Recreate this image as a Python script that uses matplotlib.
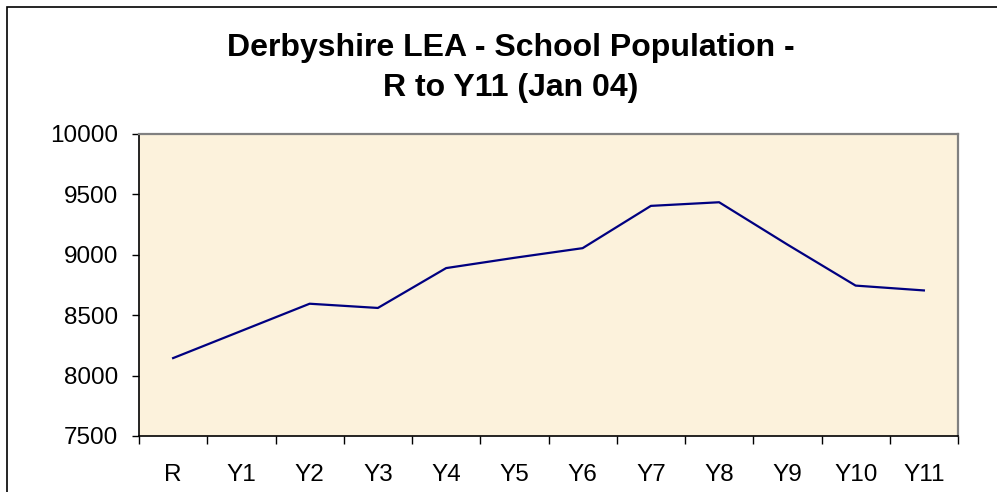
import numpy as np
import matplotlib
matplotlib.use("Agg")
import matplotlib.pyplot as plt
from matplotlib.patches import Rectangle
from matplotlib.ticker import FixedLocator

years = ["R", "Y1", "Y2", "Y3", "Y4", "Y5", "Y6", "Y7", "Y8", "Y9", "Y10", "Y11"]
pupils = [8145, 8370, 8595, 8560, 8890, 8975, 9055, 9405, 9435, 9085, 8745, 8705]
y_ticks = [7500, 8000, 8500, 9000, 9500, 10000]

plt.rcParams['font.family'] = ['Liberation Sans', 'DejaVu Sans']

fig = plt.figure(figsize=(9.97, 4.92), dpi=100)
fig.patch.set_facecolor("white")

# outer chart frame (only left and top edges show in the crop)
fig.patches.append(Rectangle((7 / 997, -0.1), 1.2, 1 - 7 / 492 + 0.1,
                             transform=fig.transFigure, fill=False,
                             edgecolor="black", linewidth=1.2, zorder=0))

ax = fig.add_axes([139 / 997, 56 / 492, 819 / 997, 302 / 492])
ax.set_facecolor("#FCF2DC")

x = np.arange(len(years))
ax.plot(x, pupils, color="#000080", linewidth=1.6)

ax.set_xlim(-0.5, len(years) - 0.5)
ax.set_ylim(7500, 10000)
ax.set_yticks(y_ticks)
ax.set_yticklabels([str(v) for v in y_ticks])
ax.set_xticks(x)
ax.set_xticklabels(years)
ax.xaxis.set_minor_locator(FixedLocator(np.arange(-0.5, len(years), 1.0)))

ax.tick_params(axis="y", which="major", direction="out", length=5, width=1,
               labelsize=17.5, pad=10, color="black")
ax.tick_params(axis="x", which="major", length=0, labelsize=17.5, pad=20)
ax.tick_params(axis="x", which="minor", direction="out", length=6, width=1,
               color="black")

for side in ["left", "bottom"]:
    ax.spines[side].set_color("black")
    ax.spines[side].set_linewidth(1.2)
for side in ["top", "right"]:
    ax.spines[side].set_color("#808080")
    ax.spines[side].set_linewidth(1.6)

fig.text(511 / 997, 1 - 68 / 492,
         "Derbyshire LEA - School Population -\nR to Y11 (Jan 04)",
         ha="center", va="center", fontsize=23, fontweight="bold",
         linespacing=1.42)

fig.savefig("out.png", dpi=100)
